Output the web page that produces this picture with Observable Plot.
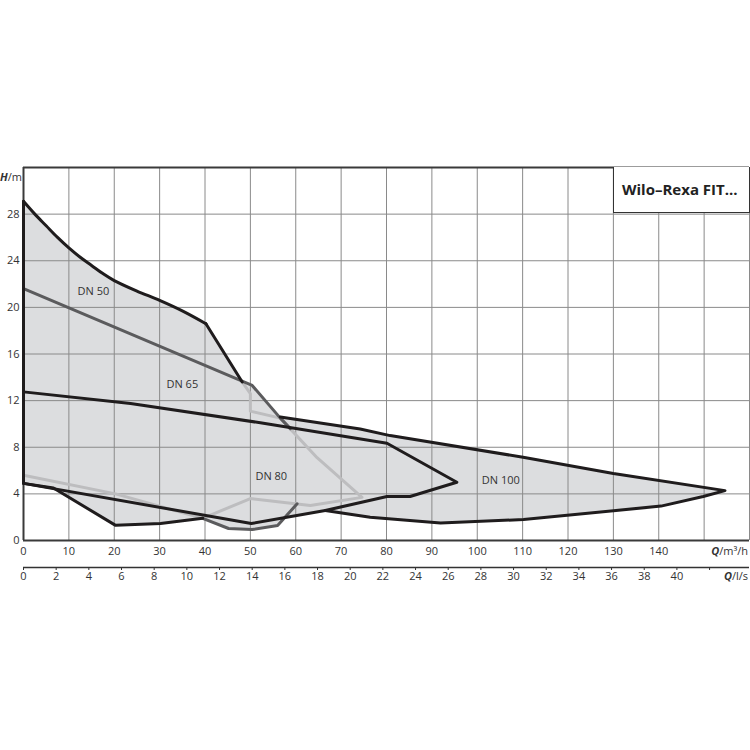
<!DOCTYPE html>
<html>
<head>
<meta charset="utf-8">
<script src="https://cdn.jsdelivr.net/npm/d3@7"></script>
<script src="https://cdn.jsdelivr.net/npm/@observablehq/plot@0.6"></script>
<style>
  body { margin: 0; background: #fff; }
  #wrap { position: relative; width: 750px; height: 750px; font-family: "Open Sans", sans-serif; }
  #wrap svg { position: absolute; left: 0; top: 0; }
  #titlebox {
    position: absolute; left: 613px; top: 167px; width: 135px; height: 45px;
    border-left: 1.5px solid #333; border-bottom: 1.5px solid #333; border-right: 1.5px solid #333;
    background: #fff; font-weight: 700; font-size: 15px; color: #222;
    box-sizing: content-box; line-height: 45px; padding-left: 0; text-indent: 8px; white-space: nowrap;
  }
</style>
</head>
<body>
<div id="wrap"></div>
<script>
// ---- tick values ----
const xTicks = [0, 10, 20, 30, 40, 50, 60, 70, 80, 90, 100, 110, 120, 130, 140];
const xGrid = [0, 10, 20, 30, 40, 50, 60, 70, 80, 90, 100, 110, 120, 130, 140, 150, 160];
const yTicks = [0, 4, 8, 12, 16, 20, 24, 28];
const yGrid = [0, 4, 8, 12, 16, 20, 24, 28, 32];
const lsTicks = [0, 2, 4, 6, 8, 10, 12, 14, 16, 18, 20, 22, 24, 26, 28, 30, 32, 34, 36, 38, 40, 42];
const lsLabels = [0, 2, 4, 6, 8, 10, 12, 14, 16, 18, 20, 22, 24, 26, 28, 30, 32, 34, 36, 38, 40];
const M3H_PER_LS = 3.6;

// ---- curve fields, [Q m³/h, H m] ----
const dn50Curve = [[0, 29.1], [2.5, 28.0], [5, 27.0], [7.5, 26.0], [10, 25.1], [12.5, 24.3], [15, 23.6],
  [17.5, 22.9], [20, 22.3], [25, 21.4], [30, 20.6], [35, 19.7], [40.2, 18.6]];
const dn50Kink = [[40.2, 18.6], [48.2, 13.6]];
const dn50Edge = [[0, 29.1], [0, 4.9], [6.6, 4.5], [20.3, 1.3], [30.2, 1.45], [39.5, 1.9]];
const dn65Top = [[0, 21.6], [50.4, 13.3], [56.6, 10.5], [58.8, 9.6]];
const dn65Bottom = [[39.5, 1.9], [45.2, 1.03], [50.4, 0.94], [56, 1.29], [60.3, 3.15]];
const dn80Grey = [[48.2, 13.6], [50, 12.6], [50, 11.1], [56.6, 10.5], [64.7, 7.1], [74.6, 3.7],
  [63.2, 3.0], [50, 3.6], [39.5, 1.9], [20.3, 4.0], [0, 5.6]];
const dn80Field = [[0, 12.75], [23.6, 11.75], [52.2, 10.1], [80.1, 8.34], [95.5, 5.0], [85.2, 3.77],
  [80.1, 3.77], [66.5, 2.57], [50.2, 1.46], [0, 4.9], [0, 12.75]];
const dn100Field = [[56.6, 10.6], [74.2, 9.57], [80.8, 9.0], [110.1, 7.14], [130, 5.74], [154.6, 4.28],
  [149.8, 3.77], [140.5, 2.95], [110.2, 1.8], [91.9, 1.5], [76.4, 2.0], [66.5, 2.57]];

const dnNames = ["DN 50", "DN 65", "DN 80", "DN 100"];
const dnLabelQ = [15.4, 35.0, 54.6, 105.2];
const dnLabelH = [21.4, 13.4, 5.5, 5.15];

const titleText = "Wilo–Rexa FIT...";

// ---- derived tables ----
const fillMain = dn50Curve.concat(dn50Kink.slice(1), dn65Top.slice(1, 3), dn80Grey.slice(4, 7),
  dn65Bottom.slice().reverse(), dn50Edge.slice(1).reverse());
const dnLabels = dnNames.map((n, i) => ({name: n, q: dnLabelQ[i], h: dnLabelH[i]}));

const FILL = "#dcdddf";
const GRID = "#8a8a8a";
const BLACK = "#1f1c1d";
const DGREY = "#5b5b5d";
const LGREY = "#bdbdbf";
const px = d => d[0], py = d => d[1];

const lineOpts = (stroke, curve = "linear") => ({x: px, y: py, stroke, curve, strokeWidth: 3, strokeLinejoin: "round", strokeLinecap: "round"});

const chart = Plot.plot({
  width: 750,
  height: 750,
  marginLeft: 23,
  marginRight: 1,
  marginTop: 167,
  marginBottom: 210,
  x: {domain: [0, 160]},
  y: {domain: [0, 32]},
  style: {fontFamily: "'Open Sans', sans-serif", fontSize: "11px", color: "#333", background: "transparent"},
  marks: [
    Plot.line(fillMain, {x: px, y: py, fill: FILL, stroke: "none"}),
    Plot.line(dn80Field, {x: px, y: py, fill: FILL, stroke: "none"}),
    Plot.line(dn100Field, {x: px, y: py, fill: FILL, stroke: "none"}),
    Plot.gridX(xGrid, {stroke: GRID, strokeOpacity: 1, strokeWidth: 1}),
    Plot.gridY(yGrid, {stroke: GRID, strokeOpacity: 1, strokeWidth: 1}),
    Plot.ruleY([0], {stroke: "#3a3a3a", strokeWidth: 2}),
    Plot.ruleY([32], {stroke: "#3a3a3a", strokeWidth: 2}),
    Plot.ruleX([0], {stroke: "#3a3a3a", strokeWidth: 2}),
    Plot.line(dn80Grey, lineOpts(LGREY)),
    Plot.line(dn65Top, lineOpts(DGREY)),
    Plot.line(dn65Bottom, lineOpts(DGREY)),
    Plot.line(dn50Curve, lineOpts(BLACK, "catmull-rom")),
    Plot.line(dn50Kink, lineOpts(BLACK)),
    Plot.line(dn50Edge, lineOpts(BLACK)),
    Plot.line(dn80Field, lineOpts(BLACK)),
    Plot.line(dn100Field, lineOpts(BLACK)),
    Plot.text(dnLabels, {x: "q", y: "h", text: "name", fill: "#333", fontSize: 11}),
    Plot.axisY(yTicks, {tickSize: 0, tickPadding: 4, label: null}),
    Plot.axisX(xTicks, {tickSize: 0, tickPadding: 7, label: null}),
    // secondary l/s axis
    Plot.ruleY([0], {dy: 27, stroke: "#333", strokeWidth: 1.5}),
    Plot.tickX(lsTicks, {x: v => v * M3H_PER_LS, insetTop: 370, dy: 30, stroke: "#333", strokeWidth: 1}),
    Plot.text(lsLabels, {x: v => v * M3H_PER_LS, frameAnchor: "bottom", dy: 36, text: v => String(v), fill: "#333", lineAnchor: "middle"})
  ]
});

const wrap = document.getElementById("wrap");
wrap.appendChild(chart);

// axis titles with bold italic quantity symbol
const svg = d3.select(chart);
function unitLabel(x, y, sym, unit) {
  const t = svg.append("text").attr("x", x).attr("y", y).attr("text-anchor", "end")
    .attr("fill", "#333").attr("font-size", 11).attr("font-family", "'Open Sans', sans-serif");
  t.append("tspan").attr("font-weight", "bold").attr("font-style", "italic").text(sym);
  t.append("tspan").text(unit);
}
unitLabel(22, 181, "H", "/m");
unitLabel(748, 555, "Q", "/m³/h");
unitLabel(748, 580, "Q", "/l/s");

const box = document.createElement("div");
box.id = "titlebox";
box.textContent = titleText;
wrap.appendChild(box);
</script>
</body>
</html>
